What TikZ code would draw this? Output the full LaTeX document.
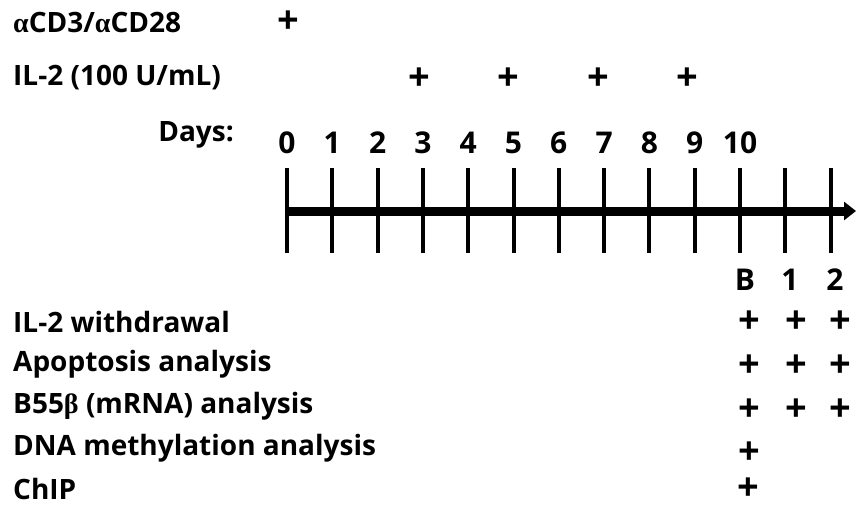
\documentclass[tikz,border=0pt]{standalone}
\usepackage{fontspec}
\setmainfont{Open Sans}[BoldFont={Open Sans Bold}]
\newfontfamily\grk{Liberation Serif}
\usetikzlibrary{arrows.meta}
\begin{document}
\begin{tikzpicture}[x=1pt,y=-1pt,
  lbl/.style={font=\fontsize{28}{30}\selectfont\bfseries, inner sep=0pt, anchor=west},
  num/.style={font=\fontsize{30}{32}\selectfont\bfseries, inner sep=0pt},
  plus/.style={font=\fontsize{38}{40}\selectfont\bfseries, inner sep=0pt},
  tickline/.style={line width=4pt},
  axis/.style={line width=9pt, -{Triangle[length=12pt,width=18pt]}}]
\useasboundingbox (0,0) rectangle (856,506);

% treatment rows
\node[lbl] (acd) at (13,22) {{\grk α}CD3/{\grk α}CD28};
\node[plus] (p0) at (288,22) {+};
\node[lbl] (il2) at (13,78) {IL-2 (100 U/mL)};
\foreach \x [count=\k] in {419,508,598,687}
  \node[plus] (pil\k) at (\x,79) {+};

% day axis
\node[lbl, anchor=east] (days) at (234,135) {Days:};
\coordinate (astart) at (285,211);
\coordinate (aend) at (856,211);
\draw[axis] (astart) -- (aend);
\foreach \i in {0,...,12}{
  \coordinate (t\i) at (287+45.3*\i,168);
  \coordinate (b\i) at (287+45.3*\i,253);
  \draw[tickline] (t\i) -- (b\i);
}
\foreach \i in {0,...,10}
  \node[num] (d\i) at (287+45.3*\i,143) {\i};

% withdrawal time points
\node[num] (tb) at (745,280) {B};
\node[num] (t1) at (790,280) {1};
\node[num] (t2) at (835,280) {2};

% analyses
\node[lbl] (r1) at (13,322) {IL-2 withdrawal};
\node[lbl] (r2) at (13,364) {Apoptosis analysis};
\node[lbl] (r3) at (13,406) {B55{\grk β} (mRNA) analysis};
\node[lbl] (r4) at (13,448) {DNA methylation analysis};
\node[lbl] (r5) at (13,489) {ChIP};
\foreach \r/\y in {1/322,2/366,3/410}{
  \node[plus] (m\r a) at (749,\y) {+};
  \node[plus] (m\r b) at (796,\y) {+};
  \node[plus] (m\r c) at (840,\y) {+};
}
\node[plus] (m4a) at (749,453) {+};
\node[plus] (m5a) at (748,489) {+};
\end{tikzpicture}
\end{document}
